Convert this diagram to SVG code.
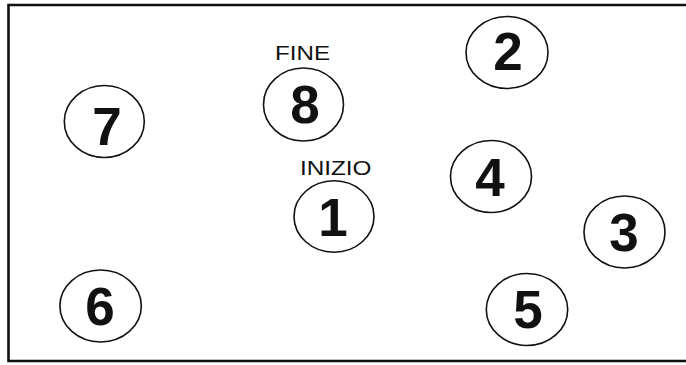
<svg xmlns="http://www.w3.org/2000/svg" width="686" height="365" viewBox="0 0 686 365">
<style>
.ring{fill:none;stroke:#111;stroke-width:1.6}
.num{font-family:"Liberation Sans",Arial,sans-serif;font-weight:bold;font-size:53px;fill:#111;text-anchor:middle}
.lbl{font-family:"Liberation Sans",Arial,sans-serif;font-size:20px;fill:#111}
.frame{fill:none;stroke:#111;stroke-width:2.6}
</style>
<rect width="686" height="365" fill="#fff"/>
<path class="frame" d="M686,5 L8.5,5 L8.5,361 L686,361"/>
<g id="n2"><ellipse class="ring" cx="507" cy="52.5" rx="41" ry="36"/><text class="num" x="508" y="70">2</text></g>
<g id="n8"><ellipse class="ring" cx="303.5" cy="104.5" rx="40" ry="36.5"/><text class="num" x="305" y="123">8</text><text class="lbl" x="275" y="60" textLength="55" lengthAdjust="spacingAndGlyphs">FINE</text></g>
<g id="n7"><ellipse class="ring" cx="104.3" cy="121.5" rx="40" ry="36"/><text class="num" x="107" y="145">7</text></g>
<g id="n4"><ellipse class="ring" cx="491" cy="176.5" rx="40.5" ry="36"/><text class="num" x="490" y="196">4</text></g>
<g id="n1"><ellipse class="ring" cx="334" cy="216.5" rx="40" ry="35.7"/><text class="num" x="333" y="236">1</text><text class="lbl" x="300" y="174.5" textLength="71.5" lengthAdjust="spacingAndGlyphs">INIZIO</text></g>
<g id="n3"><ellipse class="ring" cx="624.5" cy="232" rx="40.5" ry="36"/><text class="num" x="624" y="251">3</text></g>
<g id="n6"><ellipse class="ring" cx="100.6" cy="306" rx="40.7" ry="36"/><text class="num" x="100" y="325">6</text></g>
<g id="n5"><ellipse class="ring" cx="527" cy="309.5" rx="40.7" ry="36"/><text class="num" x="528" y="328">5</text></g>
<g id="connectors"></g>
</svg>
